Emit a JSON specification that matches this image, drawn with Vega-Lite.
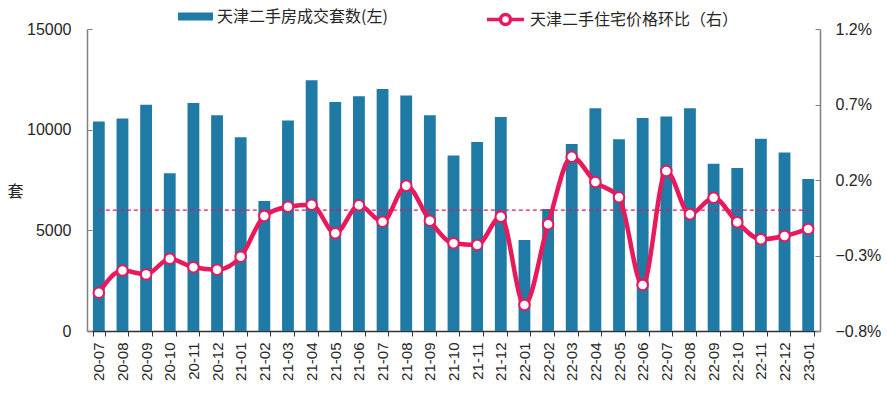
{
  "$schema": "https://vega.github.io/schema/vega-lite/v6.json",
  "width": 733,
  "height": 302,
  "autosize": {"type": "none"},
  "padding": {"left": 87, "top": 29, "right": 67, "bottom": 62},
  "background": "white",
  "config": {
    "view": {"stroke": null},
    "font": "Liberation Sans",
    "axis": {"labelFont": "Liberation Sans", "labelColor": "#262626", "labelFontSize": 16, "grid": false, "domainColor": "#808080", "tickColor": "#808080", "domainWidth": 1.5},
    "legend": {"labelFont": "Noto Sans CJK SC", "labelFontSize": 16, "labelColor": "#262626", "padding": 0, "labelLimit": 500}
  },
  "data": {"values": [
    {"month": "20-07", "count": 10400, "pct": -0.546},
    {"month": "20-08", "count": 10550, "pct": -0.40},
    {"month": "20-09", "count": 11240, "pct": -0.425},
    {"month": "20-10", "count": 7830, "pct": -0.321},
    {"month": "20-11", "count": 11325, "pct": -0.378},
    {"month": "20-12", "count": 10710, "pct": -0.394},
    {"month": "21-01", "count": 9620, "pct": -0.308},
    {"month": "21-02", "count": 6460, "pct": -0.038},
    {"month": "21-03", "count": 10450, "pct": 0.023},
    {"month": "21-04", "count": 12450, "pct": 0.036},
    {"month": "21-05", "count": 11370, "pct": -0.153},
    {"month": "21-06", "count": 11660, "pct": 0.032},
    {"month": "21-07", "count": 12020, "pct": -0.076},
    {"month": "21-08", "count": 11700, "pct": 0.162},
    {"month": "21-09", "count": 10710, "pct": -0.07},
    {"month": "21-10", "count": 8720, "pct": -0.219},
    {"month": "21-11", "count": 9390, "pct": -0.23},
    {"month": "21-12", "count": 10630, "pct": -0.043},
    {"month": "22-01", "count": 4520, "pct": -0.628},
    {"month": "22-02", "count": 6060, "pct": -0.093},
    {"month": "22-03", "count": 9290, "pct": 0.354},
    {"month": "22-04", "count": 11060, "pct": 0.186},
    {"month": "22-05", "count": 9520, "pct": 0.085},
    {"month": "22-06", "count": 10580, "pct": -0.495},
    {"month": "22-07", "count": 10660, "pct": 0.26},
    {"month": "22-08", "count": 11060, "pct": -0.027},
    {"month": "22-09", "count": 8310, "pct": 0.083},
    {"month": "22-10", "count": 8100, "pct": -0.08},
    {"month": "22-11", "count": 9550, "pct": -0.193},
    {"month": "22-12", "count": 8870, "pct": -0.171},
    {"month": "23-01", "count": 7550, "pct": -0.124}
  ]},
  "encoding": {
    "x": {
      "field": "month", "type": "ordinal", "sort": null,
      "scale": {"paddingInner": 0.5, "paddingOuter": 0.25},
      "axis": {"title": null, "labelAngle": 270, "tickBand": "extent", "labelFontSize": 15, "domainColor": "#333", "tickColor": "#333", "domainWidth": 1.5, "tickSize": 5, "labelPadding": 6}
    }
  },
  "layer": [
    {
      "mark": {"type": "bar"},
      "encoding": {
        "y": {
          "field": "count", "type": "quantitative",
          "scale": {"domain": [0, 15000]},
          "axis": {"values": [0, 5000, 10000, 15000], "format": "d", "title": "套", "titleAngle": 0, "titleX": -72, "titleY": 162, "titleAlign": "center", "titleBaseline": "middle", "titleFontSize": 16, "titleFontWeight": "normal", "titleColor": "#262626", "titleFont": "Noto Sans CJK SC", "tickSize": -5, "labelPadding": 21}
        },
        "fill": {
          "datum": "天津二手房成交套数(左)", "type": "nominal",
          "scale": {"range": ["#1f7ba6"]},
          "legend": {"title": null, "orient": "none", "legendX": 91, "legendY": -30, "symbolType": "M-1,-0.23H1V0.23H-1Z", "symbolSize": 1225, "symbolStrokeWidth": 0, "labelOffset": 4}
        }
      }
    },
    {
      "encoding": {
        "y": {
          "field": "pct", "type": "quantitative",
          "scale": {"domain": [-0.8, 1.2]},
          "axis": {"orient": "right", "values": [-0.8, -0.3, 0.2, 0.7, 1.2], "labelExpr": "format(datum.value, '.1f') + '%'", "title": null, "tickSize": -5, "labelPadding": 20}
        }
      },
      "layer": [
        {
          "mark": {"type": "line", "color": "#d81b60", "strokeWidth": 1.3, "strokeDash": [4, 3]},
          "encoding": {"y": {"datum": 0}}
        },
        {
          "mark": {"type": "line", "strokeWidth": 4.5, "interpolate": "monotone"},
          "encoding": {
            "stroke": {
              "datum": "天津二手住宅价格环比（右）", "type": "nominal",
              "scale": {"range": ["#e8195c"]},
              "legend": {"title": null, "orient": "none", "legendX": 398, "legendY": -30, "symbolType": "M-1,0H-0.27M0.27,0H1M-0.27,0A0.27,0.27 0 1,0 0.27,0A0.27,0.27 0 1,0 -0.27,0Z", "symbolSize": 1369, "symbolStrokeWidth": 3.5, "symbolFillColor": "white", "labelOffset": 4}
            }
          }
        },
        {
          "mark": {"type": "point", "shape": "circle", "filled": true, "fill": "white", "size": 110, "strokeWidth": 2, "opacity": 1},
          "encoding": {
            "stroke": {"datum": "天津二手住宅价格环比（右）", "type": "nominal"}
          }
        }
      ]
    }
  ],
  "resolve": {"scale": {"y": "independent", "fill": "independent", "stroke": "independent"}}
}
